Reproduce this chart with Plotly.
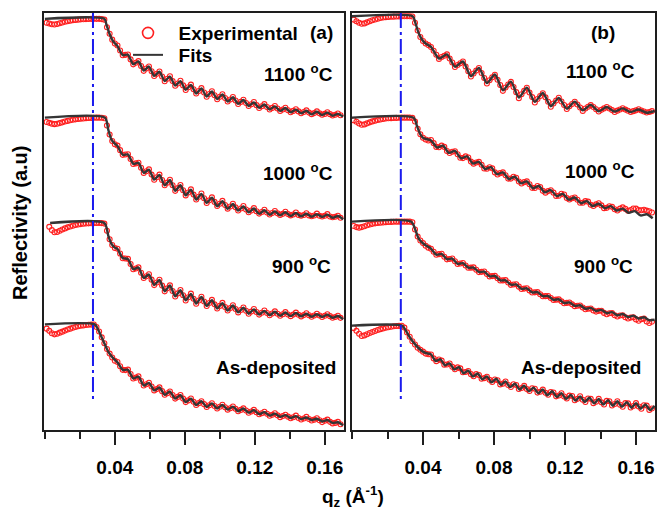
import numpy as np
import plotly.graph_objects as go

# ---------------- data (log10 reflectivity, relative to each curve's plateau) ----------------
Q_EXP = [0.001, 0.0025, 0.004, 0.0055, 0.007, 0.0085, 0.010, 0.0115, 0.013, 0.0145,
         0.016, 0.0175, 0.019, 0.0205, 0.022, 0.0235, 0.025, 0.0265, 0.028, 0.0295,
         0.031, 0.0325, 0.034, 0.0355, 0.037, 0.0385, 0.040, 0.0415, 0.043, 0.0445,
         0.046, 0.0475, 0.049, 0.0505, 0.052, 0.0535, 0.055, 0.0565, 0.058, 0.0595,
         0.061, 0.0625, 0.064, 0.0655, 0.067, 0.0685, 0.070, 0.0715, 0.073, 0.0745,
         0.076, 0.0775, 0.079, 0.0805, 0.082, 0.0835, 0.085, 0.0865, 0.088, 0.0895,
         0.091, 0.0925, 0.094, 0.0955, 0.097, 0.0985, 0.100, 0.1015, 0.103, 0.1045,
         0.106, 0.1075, 0.109, 0.1105, 0.112, 0.1135, 0.115, 0.1165, 0.118, 0.1195,
         0.121, 0.1225, 0.124, 0.1255, 0.127, 0.1285, 0.130, 0.1315, 0.133, 0.1345,
         0.136, 0.1375, 0.139, 0.1405, 0.142, 0.1435, 0.145, 0.1465, 0.148, 0.1495,
         0.151, 0.1525, 0.154, 0.1555, 0.157, 0.1585, 0.160, 0.1615, 0.163, 0.1645,
         0.166, 0.1675, 0.169]

# ---- panel (a) experimental ----
EXP_A1 = [-0.30, -0.36, -0.42, -0.44, -0.40, -0.34, -0.28, -0.22, -0.18, -0.14,
          -0.11, -0.08, -0.06, -0.04, -0.03, -0.02, -0.01, 0.00, 0.00, 0.00,
          0.00, -0.02, -0.06, -0.65, -1.15, -1.60, -1.90, -2.05, -2.44, -2.80,
          -2.77, -2.74, -3.12, -3.50, -3.38, -3.25, -3.63, -4.00, -3.82, -3.66,
          -4.03, -4.40, -4.23, -4.05, -4.43, -4.80, -4.61, -4.42, -4.79, -5.15,
          -4.97, -4.76, -5.12, -5.47, -5.26, -5.06, -5.41, -5.74, -5.55, -5.33,
          -5.66, -5.99, -5.78, -5.57, -5.88, -6.18, -6.00, -5.80, -6.09, -6.36,
          -6.20, -6.01, -6.28, -6.55, -6.39, -6.22, -6.47, -6.70, -6.57, -6.40,
          -6.64, -6.86, -6.72, -6.56, -6.78, -6.97, -6.85, -6.70, -6.90, -7.08,
          -6.97, -6.84, -7.03, -7.18, -7.08, -6.95, -7.12, -7.26, -7.17, -7.04,
          -7.21, -7.33, -7.25, -7.12, -7.27, -7.38, -7.31, -7.18, -7.33, -7.44,
          -7.38, -7.28, -7.42]
EXP_A2 = [-0.33, -0.40, -0.46, -0.50, -0.47, -0.42, -0.36, -0.30, -0.25, -0.20,
          -0.16, -0.13, -0.10, -0.08, -0.06, -0.04, -0.03, -0.02, -0.01, 0.00,
          0.00, -0.01, -0.05, -0.60, -1.30, -1.80, -2.05, -2.15, -2.50, -2.86,
          -2.84, -2.82, -3.18, -3.56, -3.52, -3.47, -3.85, -4.25, -4.12, -3.98,
          -4.38, -4.78, -4.58, -4.38, -4.80, -5.20, -5.00, -4.78, -5.20, -5.63,
          -5.42, -5.18, -5.58, -5.98, -5.76, -5.52, -5.92, -6.30, -6.08, -5.84,
          -6.20, -6.56, -6.36, -6.13, -6.48, -6.80, -6.62, -6.40, -6.72, -7.00,
          -6.83, -6.62, -6.90, -7.14, -6.99, -6.80, -7.06, -7.28, -7.14, -6.96,
          -7.20, -7.38, -7.26, -7.08, -7.30, -7.45, -7.34, -7.18, -7.36, -7.48,
          -7.40, -7.24, -7.42, -7.52, -7.45, -7.30, -7.48, -7.55, -7.49, -7.35,
          -7.52, -7.58, -7.53, -7.38, -7.55, -7.60, -7.55, -7.42, -7.60, -7.66,
          -7.62, -7.55, -7.70]
EXP_A3 = [None, -0.30, -0.55, -0.72, -0.70, -0.60, -0.50, -0.42, -0.34, -0.27,
          -0.21, -0.16, -0.12, -0.09, -0.06, -0.04, -0.03, -0.02, -0.01, 0.00,
          0.00, -0.01, -0.05, -0.60, -1.25, -1.70, -1.93, -1.98, -2.35, -2.72,
          -2.74, -2.76, -3.16, -3.56, -3.50, -3.42, -3.83, -4.24, -4.10, -3.95,
          -4.36, -4.78, -4.58, -4.37, -4.82, -5.26, -5.03, -4.80, -5.23, -5.66,
          -5.42, -5.16, -5.56, -5.96, -5.71, -5.44, -5.83, -6.21, -5.96, -5.68,
          -6.04, -6.39, -6.16, -5.92, -6.26, -6.58, -6.38, -6.15, -6.46, -6.74,
          -6.55, -6.33, -6.62, -6.88, -6.70, -6.50, -6.75, -6.98, -6.82, -6.62,
          -6.85, -7.05, -6.91, -6.73, -6.93, -7.10, -6.97, -6.80, -6.99, -7.14,
          -7.02, -6.86, -7.04, -7.17, -7.05, -6.90, -7.06, -7.19, -7.09, -6.95,
          -7.10, -7.21, -7.12, -6.99, -7.12, -7.23, -7.14, -7.02, -7.17, -7.29,
          -7.23, -7.14, -7.30]
EXP_A4 = [-0.33, -0.50, -0.68, -0.77, -0.72, -0.64, -0.56, -0.48, -0.40, -0.33,
          -0.26, -0.20, -0.15, -0.11, -0.08, -0.05, -0.03, -0.02, -0.01, -0.20,
          -0.55, -1.00, -1.45, -1.90, -2.25, -2.55, -2.80, -2.90, -3.22, -3.50,
          -3.52, -3.48, -3.82, -4.16, -4.10, -4.00, -4.36, -4.70, -4.61, -4.49,
          -4.78, -5.08, -4.98, -4.85, -5.14, -5.42, -5.30, -5.16, -5.44, -5.71,
          -5.58, -5.44, -5.71, -5.98, -5.85, -5.70, -5.96, -6.20, -6.06, -5.91,
          -6.14, -6.36, -6.22, -6.07, -6.28, -6.47, -6.34, -6.19, -6.38, -6.56,
          -6.45, -6.32, -6.50, -6.68, -6.58, -6.46, -6.63, -6.80, -6.70, -6.58,
          -6.76, -6.92, -6.84, -6.72, -6.88, -7.03, -6.95, -6.84, -7.00, -7.14,
          -7.05, -6.95, -7.10, -7.22, -7.15, -7.02, -7.20, -7.32, -7.24, -7.12,
          -7.28, -7.40, -7.33, -7.22, -7.38, -7.52, -7.42, -7.33, -7.50, -7.62,
          -7.58, -7.50, -7.68]

# ---- panel (a) fits ----
Q_FIT_OSC = [0.0415, 0.0445, 0.0475, 0.0505, 0.0535, 0.0565, 0.0595, 0.0625, 0.0655, 0.0685,
             0.0715, 0.0745, 0.0775, 0.0805, 0.0835, 0.0865, 0.0895, 0.0925, 0.0955, 0.0985,
             0.1015, 0.1045, 0.1075, 0.1105, 0.1135, 0.1165, 0.1195, 0.1225, 0.1255, 0.1285,
             0.1315, 0.1345, 0.1375, 0.1405, 0.1435, 0.1465, 0.1495, 0.1525, 0.1555, 0.1585,
             0.1615, 0.1645, 0.1675, 0.1705]

FIT_A1_Q0 = [0.0, 0.034, 0.0352, 0.0371, 0.039]
FIT_A1_Y0 = [0.0, 0.0, -0.44, -1.20, -1.72]
FIT_A1 = [-2.10, -2.78, -2.76, -3.49, -3.28, -3.98, -3.67, -4.39, -4.07, -4.78,
          -4.44, -5.14, -4.79, -5.45, -5.08, -5.74, -5.35, -5.97, -5.59, -6.17,
          -5.82, -6.36, -6.03, -6.54, -6.24, -6.70, -6.43, -6.85, -6.59, -6.97,
          -6.73, -7.08, -6.86, -7.19, -6.98, -7.27, -7.07, -7.35, -7.15, -7.40,
          -7.21, -7.45, -7.31, -7.52]
FIT_A2_Q0 = [0.0, 0.0343, 0.0362, 0.038, 0.040]
FIT_A2_Y0 = [0.0, 0.0, -0.90, -1.67, -2.00]
FIT_A2 = [-2.18, -2.85, -2.83, -3.55, -3.48, -4.24, -4.00, -4.77, -4.40, -5.20,
          -4.80, -5.62, -5.20, -5.98, -5.54, -6.30, -5.86, -6.56, -6.15, -6.81,
          -6.42, -7.02, -6.64, -7.15, -6.83, -7.29, -6.99, -7.40, -7.12, -7.47,
          -7.21, -7.51, -7.28, -7.56, -7.34, -7.59, -7.39, -7.62, -7.43, -7.64,
          -7.46, -7.70, -7.57, -7.81]
FIT_A3_Q0 = [0.003, 0.034, 0.0362, 0.038, 0.040]
FIT_A3_Y0 = [0.0, 0.0, -0.95, -1.59, -1.90]
FIT_A3 = [-2.00, -2.70, -2.78, -3.55, -3.43, -4.23, -3.97, -4.77, -4.39, -5.25,
          -4.81, -5.65, -5.18, -5.95, -5.46, -6.20, -5.70, -6.38, -5.94, -6.58,
          -6.17, -6.74, -6.35, -6.88, -6.52, -6.98, -6.65, -7.05, -6.76, -7.10,
          -6.83, -7.14, -6.89, -7.17, -6.93, -7.19, -6.98, -7.21, -7.02, -7.23,
          -7.05, -7.29, -7.16, -7.40]
FIT_A4_Q0 = [0.0, 0.0285, 0.0304, 0.0333, 0.0362, 0.039]
FIT_A4_Y0 = [0.0, 0.0, -0.40, -1.25, -2.10, -2.60]
FIT_A4 = [-2.92, -3.50, -3.50, -4.16, -4.02, -4.70, -4.50, -5.08, -4.86, -5.42,
          -5.17, -5.71, -5.45, -5.98, -5.71, -6.20, -5.92, -6.36, -6.08, -6.47,
          -6.20, -6.56, -6.33, -6.68, -6.47, -6.79, -6.60, -6.91, -6.75, -7.02,
          -6.87, -7.12, -6.98, -7.20, -7.06, -7.29, -7.16, -7.37, -7.26, -7.47,
          -7.36, -7.58, -7.53, -7.76]

# ---- panel (b) experimental ----
EXP_B1 = [-0.26, -0.38, -0.50, -0.58, -0.55, -0.47, -0.38, -0.31, -0.25, -0.19,
          -0.14, -0.10, -0.07, -0.05, -0.04, -0.03, -0.02, -0.01, 0.00, 0.00,
          0.00, 0.00, -0.02, -0.50, -1.10, -1.60, -1.90, -2.10, -2.22, -2.36,
          -2.65, -2.96, -3.28, -3.14, -3.04, -2.93, -3.25, -3.56, -3.90, -3.75,
          -3.61, -3.48, -3.86, -4.23, -4.63, -4.40, -4.18, -3.98, -4.36, -4.75,
          -5.17, -4.92, -4.70, -4.50, -4.89, -5.29, -5.74, -5.48, -5.25, -5.05,
          -5.44, -5.84, -6.30, -6.00, -5.74, -5.50, -5.86, -6.22, -6.64, -6.36,
          -6.13, -5.92, -6.24, -6.58, -6.96, -6.71, -6.49, -6.27, -6.56, -6.83,
          -7.14, -6.93, -6.75, -6.58, -6.79, -7.02, -7.28, -7.10, -6.96, -6.84,
          -6.98, -7.15, -7.33, -7.20, -7.09, -6.98, -7.10, -7.22, -7.36, -7.26,
          -7.17, -7.08, -7.18, -7.27, -7.36, -7.30, -7.24, -7.15, -7.25, -7.33,
          -7.40, -7.36, -7.30]
EXP_B2 = [-0.20, -0.32, -0.45, -0.55, -0.52, -0.44, -0.36, -0.29, -0.23, -0.18,
          -0.14, -0.10, -0.07, -0.05, -0.04, -0.03, -0.02, -0.01, 0.00, 0.00,
          0.00, 0.00, -0.02, -0.30, -0.85, -1.28, -1.55, -1.68, -1.76, -1.72,
          -1.96, -2.25, -2.28, -2.15, -2.25, -2.56, -2.72, -2.62, -2.58, -2.81,
          -3.09, -3.11, -2.98, -3.07, -3.38, -3.54, -3.45, -3.40, -3.63, -3.91,
          -3.93, -3.81, -3.90, -4.21, -4.37, -4.27, -4.21, -4.43, -4.69, -4.69,
          -4.55, -4.62, -4.91, -5.07, -4.96, -4.90, -5.12, -5.40, -5.41, -5.26,
          -5.33, -5.63, -5.77, -5.65, -5.58, -5.77, -6.02, -6.01, -5.85, -5.91,
          -6.19, -6.30, -6.20, -6.14, -6.32, -6.55, -6.55, -6.42, -6.46, -6.70,
          -6.80, -6.67, -6.59, -6.75, -6.96, -6.94, -6.82, -6.86, -7.05, -7.14,
          -7.00, -6.90, -7.02, -7.16, -7.10, -6.99, -7.00, -7.10, -7.12, -7.08,
          -7.15, -7.20, -7.30]
EXP_B3 = [-0.33, -0.42, -0.46, -0.42, -0.35, -0.28, -0.22, -0.17, -0.13, -0.10,
          -0.08, -0.06, -0.04, -0.03, -0.02, -0.01, 0.00, 0.00, 0.00, 0.00,
          0.00, 0.00, -0.05, -0.60, -1.15, -1.45, -1.65, -1.85, -2.00, -2.08,
          -2.32, -2.55, -2.50, -2.47, -2.70, -2.90, -2.87, -2.83, -3.05, -3.26,
          -3.22, -3.18, -3.37, -3.55, -3.54, -3.52, -3.70, -3.88, -3.86, -3.84,
          -4.03, -4.21, -4.19, -4.17, -4.35, -4.53, -4.52, -4.50, -4.68, -4.86,
          -4.84, -4.82, -5.00, -5.18, -5.15, -5.12, -5.29, -5.45, -5.44, -5.42,
          -5.58, -5.74, -5.73, -5.72, -5.87, -6.02, -6.00, -5.98, -6.13, -6.28,
          -6.25, -6.22, -6.36, -6.50, -6.47, -6.45, -6.60, -6.74, -6.70, -6.68,
          -6.84, -6.92, -6.86, -6.85, -7.02, -7.12, -7.05, -7.04, -7.20, -7.30,
          -7.22, -7.20, -7.35, -7.45, -7.38, -7.36, -7.52, -7.62, -7.50, -7.46,
          -7.68, -7.80, -7.70]
EXP_B4 = [-0.18, -0.40, -0.62, -0.80, -0.75, -0.66, -0.57, -0.49, -0.41, -0.34,
          -0.27, -0.21, -0.16, -0.12, -0.08, -0.05, -0.03, -0.02, -0.01, -0.15,
          -0.52, -0.85, -1.20, -1.45, -1.70, -1.85, -2.00, -2.15, -2.20, -2.22,
          -2.52, -2.73, -2.60, -2.69, -3.00, -2.99, -2.91, -3.17, -3.35, -3.21,
          -3.29, -3.59, -3.57, -3.49, -3.73, -3.89, -3.73, -3.80, -4.08, -4.04,
          -3.93, -4.17, -4.34, -4.14, -4.20, -4.52, -4.46, -4.30, -4.56, -4.72,
          -4.51, -4.56, -4.87, -4.80, -4.63, -4.88, -5.03, -4.81, -4.85, -5.15,
          -5.08, -4.92, -5.17, -5.32, -5.10, -5.14, -5.44, -5.37, -5.20, -5.45,
          -5.60, -5.38, -5.41, -5.74, -5.63, -5.43, -5.70, -5.87, -5.60, -5.63,
          -5.96, -5.85, -5.63, -5.90, -6.07, -5.79, -5.82, -6.14, -6.03, -5.81,
          -6.08, -6.24, -5.96, -5.98, -6.30, -6.18, -5.96, -6.22, -6.39, -6.12,
          -6.15, -6.48, -6.37]

# ---- panel (b) fits ----
FIT_B1_Q = [0.0, 0.0342, 0.0357, 0.0375, 0.0394, 0.0415,
            0.0445, 0.049, 0.0535, 0.058, 0.0625, 0.067, 0.0715, 0.076, 0.0805, 0.085,
            0.0895, 0.094, 0.0985, 0.103, 0.1075, 0.112, 0.1165, 0.121, 0.1255, 0.130,
            0.1345, 0.139, 0.1435, 0.148, 0.1525, 0.157, 0.1615, 0.166, 0.1705]
FIT_B1 = [0.0, 0.0, -0.51, -1.28, -1.79, -2.10,
          -2.35, -3.25, -2.93, -3.88, -3.48, -4.61, -3.97, -5.14, -4.48, -5.70,
          -5.03, -6.25, -5.49, -6.59, -5.90, -6.92, -6.28, -7.11, -6.57, -7.24,
          -6.82, -7.31, -6.98, -7.34, -7.09, -7.37, -7.17, -7.42, -7.29]
FIT_B2_Q = [0.0, 0.0347, 0.0366, 0.0385, 0.0404,
            0.0445, 0.0479, 0.0513, 0.0546, 0.0580, 0.0614, 0.0648, 0.0681, 0.0715, 0.0749,
            0.0783, 0.0816, 0.0850, 0.0884, 0.0918, 0.0951, 0.0985, 0.1019, 0.1053, 0.1086,
            0.1120, 0.1154, 0.1188, 0.1221, 0.1255, 0.1289, 0.1323, 0.1356, 0.1390, 0.1424,
            0.1458, 0.1491, 0.1525, 0.1559, 0.1593, 0.1626, 0.1660, 0.1694]
FIT_B2 = [0.0, 0.0, -0.64, -1.28, -1.59,
          -1.75, -2.29, -2.16, -2.71, -2.56, -3.12, -2.98, -3.53, -3.40, -3.95,
          -3.81, -4.35, -4.21, -4.72, -4.55, -5.05, -4.90, -5.43, -5.26, -5.75,
          -5.57, -6.04, -5.86, -6.31, -6.14, -6.58, -6.42, -6.80, -6.62, -6.97,
          -6.81, -7.14, -7.00, -7.32, -7.19, -7.52, -7.43, -7.74]
FIT_B3_Q0 = [0.0, 0.0334, 0.0357, 0.0375, 0.0394, 0.0415]
FIT_B3_Y0 = [0.0, 0.0, -0.64, -1.28, -1.59, -1.82]
FIT_B3 = [-2.08, -2.54, -2.48, -2.89, -2.84, -3.25, -3.19, -3.54, -3.53, -3.87,
          -3.85, -4.20, -4.18, -4.52, -4.51, -4.85, -4.83, -5.17, -5.13, -5.44,
          -5.42, -5.73, -5.72, -6.01, -5.97, -6.26, -6.21, -6.48, -6.43, -6.70,
          -6.63, -6.87, -6.79, -7.04, -6.96, -7.20, -7.10, -7.33, -7.23, -7.45,
          -7.35, -7.58, -7.55]
FIT_B4_Q = [0.0, 0.0282, 0.030, 0.0328, 0.0357, 0.0385, 0.0413,
            0.0445, 0.0471, 0.0498, 0.0524, 0.0550, 0.0576, 0.0603, 0.0629, 0.0655, 0.0681,
            0.0708, 0.0734, 0.0760, 0.0786, 0.0813, 0.0839, 0.0865, 0.0891, 0.0918, 0.0944,
            0.0970, 0.0996, 0.1023, 0.1049, 0.1075, 0.1101, 0.1128, 0.1154, 0.1180, 0.1206,
            0.1233, 0.1259, 0.1285, 0.1311, 0.1338, 0.1364, 0.1390, 0.1416, 0.1443, 0.1469,
            0.1495, 0.1521, 0.1548, 0.1574, 0.1600, 0.1626, 0.1653, 0.1679, 0.1705]
FIT_B4 = [0.0, 0.0, -0.31, -0.95, -1.46, -1.85, -2.10,
          -2.21, -2.72, -2.59, -3.05, -2.90, -3.37, -3.20, -3.66, -3.47, -3.91,
          -3.68, -4.13, -3.90, -4.35, -4.09, -4.56, -4.29, -4.73, -4.47, -4.91,
          -4.62, -5.05, -4.77, -5.20, -4.91, -5.35, -5.05, -5.50, -5.19, -5.64,
          -5.33, -5.77, -5.44, -5.87, -5.55, -5.98, -5.64, -6.07, -5.73, -6.16,
          -5.82, -6.24, -5.89, -6.31, -5.97, -6.39, -6.06, -6.49, -6.17]

OFFSETS_A = [0.0, -7.6, -15.7, -23.5]
OFFSETS_B = [0.0, -7.8, -15.8, -23.8]
LABELS = ["1100 <sup>o</sup>C", "1000 <sup>o</sup>C", "900 <sup>o</sup>C", "As-deposited"]
Q_CRIT = 0.0275
CRIT_Y_A = [0.45, -29.24]
CRIT_Y_B = [0.25, -29.75]
TICK_VALS = [0.04, 0.08, 0.12, 0.16]
TICK_TEXT = ["0.04", "0.08", "0.12", "0.16"]

# ---------------- styles ----------------
FONT = "Liberation Sans, Arial, sans-serif"
RED = "#ff1f1f"
FITC = "#353535"
BLUE = "#1a1aee"
AXC = "#1e1e1e"
W, H = 660, 510

fig = go.Figure()

# legend-only entries (two separate legends so each row can be placed like the reference)
fig.add_trace(go.Scatter(x=[None], y=[None], mode="markers", name="&nbsp;&nbsp;Experimental",
                         legend="legend",
                         marker=dict(symbol="circle-open", size=11, color=RED, line=dict(width=1.6, color=RED)),
                         xaxis="x", yaxis="y"))
fig.add_trace(go.Scatter(x=[None], y=[None], mode="lines", name="&nbsp;&nbsp;Fits", legend="legend2",
                         line=dict(color=FITC, width=2), xaxis="x", yaxis="y"))

panel_a = [
    (EXP_A1, FIT_A1_Q0 + Q_FIT_OSC, FIT_A1_Y0 + FIT_A1),
    (EXP_A2, FIT_A2_Q0 + Q_FIT_OSC, FIT_A2_Y0 + FIT_A2),
    (EXP_A3, FIT_A3_Q0 + Q_FIT_OSC, FIT_A3_Y0 + FIT_A3),
    (EXP_A4, FIT_A4_Q0 + Q_FIT_OSC, FIT_A4_Y0 + FIT_A4),
]
panel_b = [
    (EXP_B1, FIT_B1_Q, FIT_B1),
    (EXP_B2, FIT_B2_Q, FIT_B2),
    (EXP_B3, FIT_B3_Q0 + Q_FIT_OSC[1:], FIT_B3_Y0 + FIT_B3),
    (EXP_B4, FIT_B4_Q, FIT_B4),
]


def arr(v):
    return np.array([np.nan if e is None else e for e in v], dtype=float)


for curves, offsets, xa, ya in [(panel_a, OFFSETS_A, "x", "y"), (panel_b, OFFSETS_B, "x2", "y2")]:
    for (ey, fq, fy), off in zip(curves, offsets):
        fig.add_trace(go.Scatter(x=Q_EXP, y=arr(ey) + off, mode="markers", showlegend=False,
                                 marker=dict(symbol="circle-open", size=5, color=RED,
                                             line=dict(width=1.1, color=RED)),
                                 xaxis=xa, yaxis=ya))
        fig.add_trace(go.Scatter(x=fq, y=arr(fy) + off, mode="lines", showlegend=False,
                                 line=dict(color=FITC, width=2.4, shape="spline", smoothing=0.7),
                                 xaxis=xa, yaxis=ya))

fig.add_trace(go.Scatter(x=[Q_CRIT, Q_CRIT], y=CRIT_Y_A, mode="lines", showlegend=False,
                         line=dict(color=BLUE, width=2, dash="15px,4px,3px,4px"), xaxis="x", yaxis="y"))
fig.add_trace(go.Scatter(x=[Q_CRIT, Q_CRIT], y=CRIT_Y_B, mode="lines", showlegend=False,
                         line=dict(color=BLUE, width=2, dash="15px,4px,3px,4px"), xaxis="x2", yaxis="y2"))

YDOM = [(H - 430) / H, (H - 13) / H]
tickfont = dict(family=FONT, size=19, color="black", weight="bold")
xcommon = dict(showline=True, linewidth=2, linecolor=AXC, mirror=True, showgrid=False, zeroline=False,
               tickmode="array", tickvals=TICK_VALS, ticktext=TICK_TEXT, ticks="outside", ticklen=13,
               tickwidth=2, tickcolor=AXC, tickfont=tickfont, ticklabelstandoff=6,
               minor=dict(tickmode="linear", tick0=0, dtick=0.02, ticks="outside", ticklen=7,
                          tickwidth=2, tickcolor=AXC))
ycommon = dict(showline=True, linewidth=2, linecolor=AXC, mirror=True, showgrid=False, zeroline=False,
               showticklabels=False, ticks="")
legfont = dict(family=FONT, size=19, color="black", weight="bold")

fig.update_layout(
    width=W, height=H, margin=dict(l=0, r=0, t=0, b=0),
    plot_bgcolor="white", paper_bgcolor="white",
    xaxis=dict(domain=[44 / W, 344 / W], range=[-0.0005, 0.171], **xcommon),
    xaxis2=dict(domain=[352 / W, 655 / W], range=[0.0, 0.1707], anchor="y2", **xcommon),
    yaxis=dict(domain=YDOM, range=[0.45 - 417 / 13, 0.45], anchor="x", **ycommon),
    yaxis2=dict(domain=YDOM, range=[0.25 - 417 / 13, 0.25], anchor="x2", **ycommon),
    showlegend=True,
    legend=dict(x=128 / W, y=1 - 14 / H, xanchor="left", yanchor="top", font=legfont,
                bgcolor="rgba(0,0,0,0)", itemwidth=30),
    legend2=dict(x=128 / W, y=1 - 36 / H, xanchor="left", yanchor="top", font=legfont,
                 bgcolor="rgba(0,0,0,0)", itemwidth=30),
)

ann = []


def txt(s, x, y, xanchor="right", size=19, angle=0):
    ann.append(dict(text="<b>" + s + "</b>", x=x / W, y=1 - y / H, xref="paper", yref="paper",
                    xanchor=xanchor, yanchor="middle", showarrow=False, textangle=angle,
                    font=dict(family=FONT, size=size, color="black")))


txt("(a)", 335, 33)
txt("(b)", 617, 33)
for lab, ya, yb, ra, rb in zip(LABELS, [73, 172, 265, 367], [70, 170, 265, 367],
                               [335, 335, 333, 338], [637, 637, 635, 643]):
    txt(lab, ra, ya)
    txt(lab, rb, yb)
txt("q<sub>z</sub> (Å<sup>-1</sup>)", 353, 496, xanchor="center")
txt("Reflectivity (a.u)", 20, 223, xanchor="center", size=20, angle=-90)
fig.update_layout(annotations=ann)

fig.write_html("out.html", config={"displayModeBar": False},
               post_script="document.body.style.margin='0px';")
